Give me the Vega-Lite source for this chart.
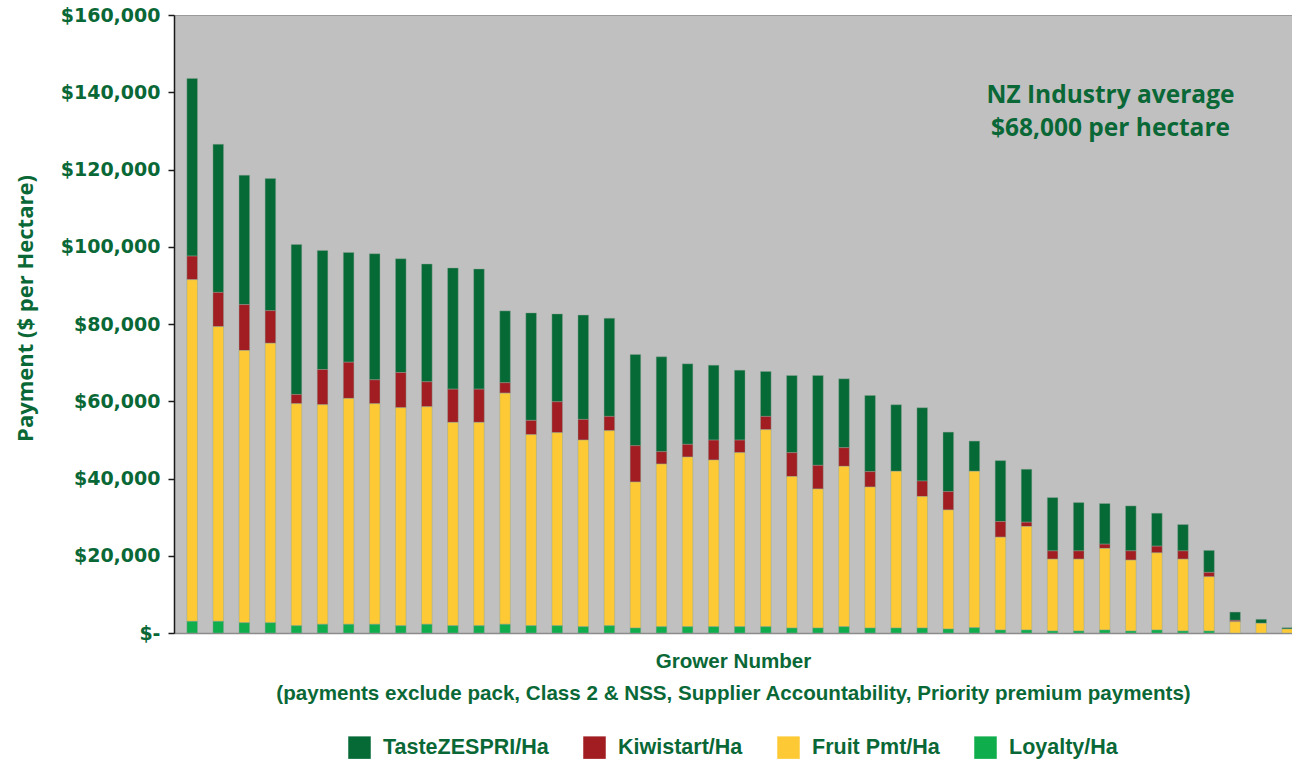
{
  "$schema": "https://vega.github.io/schema/vega-lite/v6.json",
  "width": 1118,
  "height": 618,
  "autosize": {"type": "none"},
  "padding": {"left": 174, "top": 15, "right": 0, "bottom": 130},
  "background": "white",
  "config": {
    "view": {"fill": "#c0c0c0", "stroke": "#9a9a9a", "strokeWidth": 1}
  },
  "datasets": {
    "growers": [
      {"grower": 1, "TasteZESPRI/Ha": 46000, "Kiwistart/Ha": 6120, "Fruit Pmt/Ha": 88450, "Loyalty/Ha": 3020},
      {"grower": 2, "TasteZESPRI/Ha": 38350, "Kiwistart/Ha": 8860, "Fruit Pmt/Ha": 76300, "Loyalty/Ha": 3020},
      {"grower": 3, "TasteZESPRI/Ha": 33510, "Kiwistart/Ha": 11890, "Fruit Pmt/Ha": 70470, "Loyalty/Ha": 2660},
      {"grower": 4, "TasteZESPRI/Ha": 34190, "Kiwistart/Ha": 8450, "Fruit Pmt/Ha": 72350, "Loyalty/Ha": 2660},
      {"grower": 5, "TasteZESPRI/Ha": 38840, "Kiwistart/Ha": 2400, "Fruit Pmt/Ha": 57470, "Loyalty/Ha": 1890},
      {"grower": 6, "TasteZESPRI/Ha": 30830, "Kiwistart/Ha": 9120, "Fruit Pmt/Ha": 56850, "Loyalty/Ha": 2250},
      {"grower": 7, "TasteZESPRI/Ha": 28420, "Kiwistart/Ha": 9380, "Fruit Pmt/Ha": 58480, "Loyalty/Ha": 2250},
      {"grower": 8, "TasteZESPRI/Ha": 32640, "Kiwistart/Ha": 6200, "Fruit Pmt/Ha": 57100, "Loyalty/Ha": 2250},
      {"grower": 9, "TasteZESPRI/Ha": 29460, "Kiwistart/Ha": 9120, "Fruit Pmt/Ha": 56430, "Loyalty/Ha": 1890},
      {"grower": 10, "TasteZESPRI/Ha": 30490, "Kiwistart/Ha": 6460, "Fruit Pmt/Ha": 56330, "Loyalty/Ha": 2250},
      {"grower": 11, "TasteZESPRI/Ha": 31370, "Kiwistart/Ha": 8600, "Fruit Pmt/Ha": 52640, "Loyalty/Ha": 1890},
      {"grower": 12, "TasteZESPRI/Ha": 31110, "Kiwistart/Ha": 8600, "Fruit Pmt/Ha": 52640, "Loyalty/Ha": 1890},
      {"grower": 13, "TasteZESPRI/Ha": 18600, "Kiwistart/Ha": 2690, "Fruit Pmt/Ha": 59850, "Loyalty/Ha": 2250},
      {"grower": 14, "TasteZESPRI/Ha": 27830, "Kiwistart/Ha": 3700, "Fruit Pmt/Ha": 49460, "Loyalty/Ha": 1890},
      {"grower": 15, "TasteZESPRI/Ha": 22740, "Kiwistart/Ha": 8010, "Fruit Pmt/Ha": 49970, "Loyalty/Ha": 1890},
      {"grower": 16, "TasteZESPRI/Ha": 27000, "Kiwistart/Ha": 5350, "Fruit Pmt/Ha": 48320, "Loyalty/Ha": 1630},
      {"grower": 17, "TasteZESPRI/Ha": 25400, "Kiwistart/Ha": 3700, "Fruit Pmt/Ha": 50490, "Loyalty/Ha": 1890},
      {"grower": 18, "TasteZESPRI/Ha": 23590, "Kiwistart/Ha": 9410, "Fruit Pmt/Ha": 37800, "Loyalty/Ha": 1290},
      {"grower": 19, "TasteZESPRI/Ha": 24550, "Kiwistart/Ha": 3200, "Fruit Pmt/Ha": 42120, "Loyalty/Ha": 1630},
      {"grower": 20, "TasteZESPRI/Ha": 20850, "Kiwistart/Ha": 3280, "Fruit Pmt/Ha": 43930, "Loyalty/Ha": 1630},
      {"grower": 21, "TasteZESPRI/Ha": 19380, "Kiwistart/Ha": 5170, "Fruit Pmt/Ha": 43150, "Loyalty/Ha": 1630},
      {"grower": 22, "TasteZESPRI/Ha": 18090, "Kiwistart/Ha": 3260, "Fruit Pmt/Ha": 45060, "Loyalty/Ha": 1630},
      {"grower": 23, "TasteZESPRI/Ha": 11630, "Kiwistart/Ha": 3440, "Fruit Pmt/Ha": 51010, "Loyalty/Ha": 1630},
      {"grower": 24, "TasteZESPRI/Ha": 19970, "Kiwistart/Ha": 6200, "Fruit Pmt/Ha": 39200, "Loyalty/Ha": 1290},
      {"grower": 25, "TasteZESPRI/Ha": 23260, "Kiwistart/Ha": 6120, "Fruit Pmt/Ha": 36000, "Loyalty/Ha": 1290},
      {"grower": 26, "TasteZESPRI/Ha": 17830, "Kiwistart/Ha": 4830, "Fruit Pmt/Ha": 41520, "Loyalty/Ha": 1630},
      {"grower": 27, "TasteZESPRI/Ha": 19720, "Kiwistart/Ha": 3980, "Fruit Pmt/Ha": 36510, "Loyalty/Ha": 1290},
      {"grower": 28, "TasteZESPRI/Ha": 17240, "Kiwistart/Ha": 0, "Fruit Pmt/Ha": 40570, "Loyalty/Ha": 1290},
      {"grower": 29, "TasteZESPRI/Ha": 18970, "Kiwistart/Ha": 4030, "Fruit Pmt/Ha": 34030, "Loyalty/Ha": 1290},
      {"grower": 30, "TasteZESPRI/Ha": 15400, "Kiwistart/Ha": 4750, "Fruit Pmt/Ha": 30830, "Loyalty/Ha": 1030},
      {"grower": 31, "TasteZESPRI/Ha": 7830, "Kiwistart/Ha": 0, "Fruit Pmt/Ha": 40490, "Loyalty/Ha": 1370},
      {"grower": 32, "TasteZESPRI/Ha": 15760, "Kiwistart/Ha": 4060, "Fruit Pmt/Ha": 24030, "Loyalty/Ha": 780},
      {"grower": 33, "TasteZESPRI/Ha": 13700, "Kiwistart/Ha": 1110, "Fruit Pmt/Ha": 26800, "Loyalty/Ha": 780},
      {"grower": 34, "TasteZESPRI/Ha": 13800, "Kiwistart/Ha": 2140, "Fruit Pmt/Ha": 18600, "Loyalty/Ha": 520},
      {"grower": 35, "TasteZESPRI/Ha": 12510, "Kiwistart/Ha": 2140, "Fruit Pmt/Ha": 18600, "Loyalty/Ha": 520},
      {"grower": 36, "TasteZESPRI/Ha": 10520, "Kiwistart/Ha": 1110, "Fruit Pmt/Ha": 21110, "Loyalty/Ha": 780},
      {"grower": 37, "TasteZESPRI/Ha": 11630, "Kiwistart/Ha": 2400, "Fruit Pmt/Ha": 18350, "Loyalty/Ha": 520},
      {"grower": 38, "TasteZESPRI/Ha": 8530, "Kiwistart/Ha": 1730, "Fruit Pmt/Ha": 19970, "Loyalty/Ha": 780},
      {"grower": 39, "TasteZESPRI/Ha": 6820, "Kiwistart/Ha": 2140, "Fruit Pmt/Ha": 18600, "Loyalty/Ha": 520},
      {"grower": 40, "TasteZESPRI/Ha": 5690, "Kiwistart/Ha": 1140, "Fruit Pmt/Ha": 14030, "Loyalty/Ha": 520},
      {"grower": 41, "TasteZESPRI/Ha": 2140, "Kiwistart/Ha": 360, "Fruit Pmt/Ha": 2920, "Loyalty/Ha": 0},
      {"grower": 42, "TasteZESPRI/Ha": 1030, "Kiwistart/Ha": 0, "Fruit Pmt/Ha": 2510, "Loyalty/Ha": 0},
      {"grower": 43, "TasteZESPRI/Ha": 340, "Kiwistart/Ha": 0, "Fruit Pmt/Ha": 1030, "Loyalty/Ha": 0}
    ],
    "types": [
      {"type": "Loyalty/Ha", "stackOrder": 1},
      {"type": "Fruit Pmt/Ha", "stackOrder": 2},
      {"type": "Kiwistart/Ha", "stackOrder": 3},
      {"type": "TasteZESPRI/Ha", "stackOrder": 4}
    ],
    "notes": [
      {"grower": 36.22, "value": 137300, "label": "NZ Industry average"},
      {"grower": 36.22, "value": 128700, "label": "$68,000 per hectare"}
    ]
  },
  "layer": [
    {
      "data": {"name": "growers"},
      "transform": [
        {"fold": ["TasteZESPRI/Ha", "Kiwistart/Ha", "Fruit Pmt/Ha", "Loyalty/Ha"], "as": ["type", "value"]},
        {"filter": "datum.value > 0"},
        {"lookup": "type", "from": {"data": {"name": "types"}, "key": "type", "fields": ["stackOrder"]}}
      ],
      "mark": {"type": "bar", "width": 10.6, "clip": true, "stroke": "#8fa396", "strokeWidth": 0.6, "strokeOpacity": 0.7},
      "encoding": {
        "x": {
          "field": "grower",
          "type": "quantitative",
          "scale": {"domain": [0.4945, 42.99], "nice": false, "zero": false},
          "axis": {
            "labels": false,
            "ticks": false,
            "grid": false,
            "domainColor": "#8c8c8c",
            "domainWidth": 1.5,
            "title": ["Grower Number", "(payments exclude pack, Class 2 & NSS, Supplier Accountability, Priority premium payments)"],
            "titleFont": "Liberation Sans",
            "titleFontSize": 20.6,
            "titleFontWeight": "bold",
            "titleColor": "#0a6837",
            "titlePadding": 18,
            "titleLineHeight": 32
          }
        },
        "y": {
          "field": "value",
          "type": "quantitative",
          "stack": "zero",
          "scale": {"domain": [0, 160000], "nice": false},
          "axis": {
            "values": [0, 20000, 40000, 60000, 80000, 100000, 120000, 140000, 160000],
            "labelExpr": "datum.value === 0 ? '$-' : '$' + format(datum.value, ',')",
            "grid": false,
            "labelFont": "DejaVu Sans",
            "labelFontSize": 19,
            "labelFontWeight": "bold",
            "labelColor": "#0a6837",
            "labelPadding": 8,
            "tickSize": 6,
            "tickColor": "#1a1a1a",
            "tickWidth": 1.5,
            "domainColor": "#1a1a1a",
            "domainWidth": 1.5,
            "title": "Payment ($ per Hectare)",
            "titleFont": "Open Sans",
            "titleFontSize": 22,
            "titleFontWeight": "bold",
            "titleColor": "#0a6837",
            "titleX": -149,
            "titleY": 293,
            "titleBaseline": "middle"
          }
        },
        "color": {
          "field": "type",
          "type": "nominal",
          "scale": {
            "domain": ["TasteZESPRI/Ha", "Kiwistart/Ha", "Fruit Pmt/Ha", "Loyalty/Ha"],
            "range": ["#066a37", "#a11d22", "#fdca36", "#10ad4c"]
          },
          "legend": {
            "orient": "none",
            "legendX": 174,
            "legendY": 721,
            "direction": "horizontal",
            "title": null,
            "symbolType": "square",
            "symbolSize": 506,
            "symbolStrokeWidth": 0,
            "symbolOpacity": 1,
            "labelFont": "Liberation Sans",
            "labelFontSize": 21.5,
            "labelFontWeight": "bold",
            "labelColor": "#0a6837",
            "labelOffset": 12,
            "columnPadding": 34,
            "labelLimit": 400
          }
        },
        "order": {"field": "stackOrder", "type": "quantitative", "sort": "ascending"}
      }
    },
    {
      "data": {"name": "notes"},
      "mark": {"type": "text", "font": "Open Sans", "fontWeight": "bold", "fontSize": 24.5, "color": "#0a6837", "align": "center", "baseline": "alphabetic"},
      "encoding": {
        "x": {"field": "grower", "type": "quantitative"},
        "y": {"field": "value", "type": "quantitative"},
        "text": {"field": "label", "type": "nominal"}
      }
    }
  ]
}
